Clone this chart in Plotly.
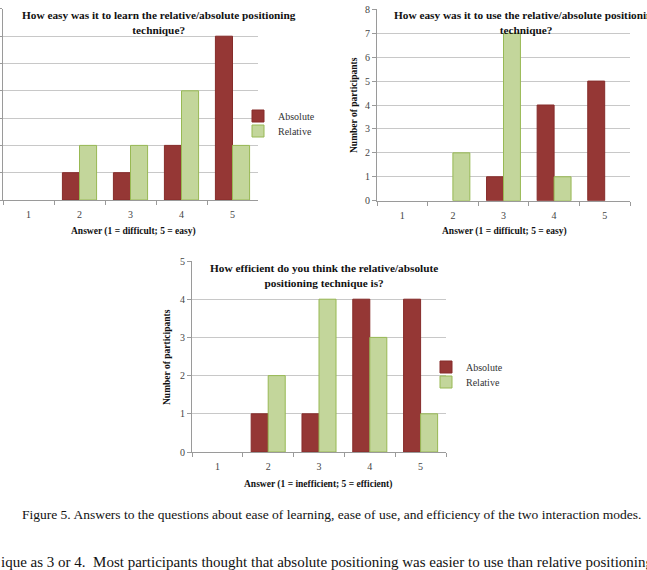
import plotly.graph_objects as go

W, H = 647, 570

categories = ["1", "2", "3", "4", "5"]

learn_absolute = [0, 1, 1, 2, 6]
learn_relative = [0, 2, 2, 4, 2]

use_absolute = [0, 0, 1, 4, 5]
use_relative = [0, 2, 7, 1, 0]

eff_absolute = [0, 1, 1, 4, 4]
eff_relative = [0, 2, 4, 3, 1]

title_learn = "How easy was it to learn the relative/absolute positioning<br>technique?"
title_use = "How easy was it to use the relative/absolute positioning<br>technique?"
title_eff = "How efficient do you think the relative/absolute<br>positioning technique is?"
xtitle_easy = "Answer (1 = difficult; 5 = easy)"
xtitle_eff = "Answer (1 = inefficient; 5 = efficient)"
ytitle = "Number of participants"
caption = "Figure 5. Answers to the questions about ease of learning, ease of use, and efficiency of the two interaction modes."
body = "ique as 3 or 4.  Most participants thought that absolute positioning was easier to use than relative positioning"

ABS_FILL = "#953735"
ABS_LINE = "#862c2a"
REL_FILL = "#c3d69b"
REL_LINE = "#98b954"
GRID = "#c8c8c8"
AXIS = "#9a9a9a"
FONT = "Liberation Serif"


def px(x):
    return x / W


def py(y):
    return 1 - y / H


def nz(values):
    # zero counts draw no bar at all
    return [v if v else None for v in values]


fig = go.Figure()

charts = [
    # (abs, rel, xaxis, yaxis, legend abs, legend rel, legend shown)
    (learn_absolute, learn_relative, "x", "y", "legend", "legend2", True),
    (use_absolute, use_relative, "x2", "y2", "legend3", "legend4", False),
    (eff_absolute, eff_relative, "x3", "y3", "legend5", "legend6", True),
]

for a, r, xa, ya, la, lr, show in charts:
    fig.add_trace(go.Bar(x=categories, y=nz(a), name="Absolute", xaxis=xa, yaxis=ya,
                         marker=dict(color=ABS_FILL, line=dict(color=ABS_LINE, width=1)),
                         legend=la, showlegend=show))
    fig.add_trace(go.Bar(x=categories, y=nz(r), name="Relative", xaxis=xa, yaxis=ya,
                         marker=dict(color=REL_FILL, line=dict(color=REL_LINE, width=1)),
                         legend=lr, showlegend=show))

tickfont = dict(family=FONT, size=10, color="#444")


def xaxis(domain, anchor):
    return dict(domain=domain, anchor=anchor, type="category", showgrid=False,
                showline=True, linecolor=AXIS, linewidth=1, ticks="outside",
                tickson="boundaries", ticklen=4, tickcolor=AXIS, tickfont=tickfont,
                ticklabelstandoff=5, fixedrange=True, zeroline=False, automargin=False)


def yaxis(domain, anchor, rng, labels=True):
    return dict(domain=domain, anchor=anchor, range=rng, dtick=1, showgrid=True,
                gridcolor=GRID, gridwidth=1, showline=True, linecolor=AXIS, linewidth=1,
                ticks="outside", ticklen=4, tickcolor=AXIS, tickfont=tickfont,
                showticklabels=labels, zeroline=False, fixedrange=True, automargin=False)


fig.update_layout(
    width=W, height=H,
    margin=dict(l=0, r=0, t=0, b=0, pad=0, autoexpand=False),
    paper_bgcolor="white", plot_bgcolor="white",
    showlegend=True,
    barmode="group", bargap=0.33, bargroupgap=0,
    font=dict(family=FONT, color="#222"),
    xaxis=xaxis([px(3), px(258)], "y"),
    yaxis=yaxis([py(200), py(8.9)], "x", [0, 7], labels=False),
    xaxis2=xaxis([px(377), px(630)], "y2"),
    yaxis2=yaxis([py(200.7), py(9.3)], "x2", [0, 8]),
    xaxis3=xaxis([px(192), px(446)], "y3"),
    yaxis3=yaxis([py(452), py(261)], "x3", [0, 5]),
)

legfont = dict(family=FONT, size=10, color="#333")
leg_pos = {
    "legend": (278, 116), "legend2": (278, 131),
    "legend5": (466, 367), "legend6": (466, 382),
}
for name, (tx, ty) in leg_pos.items():
    fig.update_layout({name: dict(x=px(tx - 40), y=py(ty), xanchor="left", yanchor="middle",
                                  xref="paper", yref="paper", bgcolor="rgba(0,0,0,0)",
                                  borderwidth=0, font=legfont, visible=True)})

ann = []
tfont = dict(family=FONT, size=11.3, color="#111")
for text, cx, cy in [(title_learn, 159, 22), (title_use, 526, 22), (title_eff, 324, 275.5)]:
    ann.append(dict(text="<b>" + text + "</b>", x=px(cx), y=py(cy), xref="paper", yref="paper",
                    xanchor="center", yanchor="middle", showarrow=False, font=tfont))
afont = dict(family=FONT, size=9.5, color="#111")
for text, cx, cy in [(xtitle_easy, 133, 232), (xtitle_easy, 504, 232), (xtitle_eff, 318, 484)]:
    ann.append(dict(text="<b>" + text + "</b>", x=px(cx), y=py(cy), xref="paper", yref="paper",
                    xanchor="center", yanchor="middle", showarrow=False, font=afont))
for cx, cy in [(354, 105), (167, 357)]:
    ann.append(dict(text="<b>" + ytitle + "</b>", x=px(cx), y=py(cy), xref="paper", yref="paper",
                    xanchor="center", yanchor="middle", textangle=-90, showarrow=False, font=afont))
ann.append(dict(text=caption, x=px(331), y=py(514), xref="paper", yref="paper",
                xanchor="center", yanchor="middle", showarrow=False,
                font=dict(family=FONT, size=13.5, color="#111")))
ann.append(dict(text=body, x=px(-1), y=py(562), xref="paper", yref="paper",
                xanchor="left", yanchor="middle", showarrow=False,
                font=dict(family=FONT, size=15, color="#111")))
fig.update_layout(annotations=ann)

fig.write_html("out.html", config={"displayModeBar": False})
